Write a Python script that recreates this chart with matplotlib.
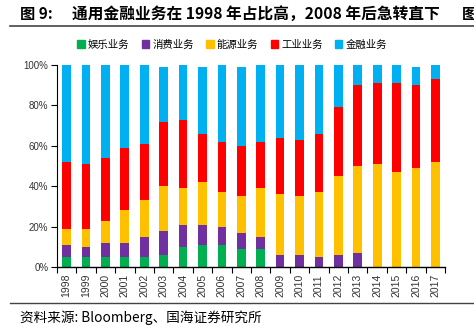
import matplotlib
matplotlib.use("Agg")
import matplotlib.pyplot as plt
import numpy as np
from matplotlib.lines import Line2D
from matplotlib.patches import Patch

plt.rcParams["font.family"] = ["Noto Sans CJK SC", "DejaVu Sans"]

years = [str(y) for y in range(1998, 2018)]
# 占比 (%)
entertainment = [5, 5, 5, 5, 5, 6, 10, 11, 11, 9, 9, 0, 0, 0, 0, 0, 0, 0, 0, 0]
consumer = [6, 5, 7, 7, 10, 12, 11, 10, 9, 8, 6, 6, 6, 5, 6, 7, 0, 0, 0, 0]
energy = [8, 9, 11, 16, 18, 22, 18, 21, 17, 18, 24, 30, 29, 32, 39, 43, 51, 47, 49, 52]
industrial = [33, 32, 31, 31, 28, 32, 34, 24, 25, 25, 23, 28, 28, 29, 34, 40, 40, 44, 41, 41]
financial = [48, 49, 46, 41, 39, 27, 27, 33, 38, 39, 38, 36, 37, 34, 21, 10, 9, 9, 9, 7]

series = [
    ("娱乐业务", entertainment, "#00B050"),
    ("消费业务", consumer, "#7030A0"),
    ("能源业务", energy, "#FFC000"),
    ("工业业务", industrial, "#FF0000"),
    ("金融业务", financial, "#00B0F0"),
]

fig = plt.figure(figsize=(4.74, 3.30), dpi=100)
ax = fig.add_axes([0.120, 0.191, 0.819, 0.612])

x = np.arange(len(years))
bottom = np.zeros(len(years))
for name, vals, color in series:
    vals = np.array(vals, dtype=float)
    ax.bar(x, vals, width=0.45, bottom=bottom, color=color, label=name)
    bottom += vals

ax.set_xlim(-0.5, len(years) - 0.5)
ax.set_ylim(0, 100)
ax.set_yticks(range(0, 101, 20))
ax.set_yticklabels([f"{v}%" for v in range(0, 101, 20)],
                   family="Liberation Sans", fontsize=7, color="#333333")
ax.set_xticks(x)
ax.set_xticklabels(years, rotation=90, family="Liberation Sans",
                   fontsize=7.5, color="#333333")
ax.set_xticks(np.arange(-0.5, len(years)), minor=True)
ax.tick_params(axis="x", which="major", length=0, pad=5)
ax.tick_params(axis="x", which="minor", length=4, width=0.8, direction="out")
ax.tick_params(axis="y", length=4, width=0.8, direction="out", pad=2)
for s in ["top", "right"]:
    ax.spines[s].set_visible(False)
ax.spines["left"].set_linewidth(0.8)
ax.spines["bottom"].set_linewidth(1.0)

# legend
handles = [Patch(color=c) for _, _, c in series]
fig.legend(handles, [n for n, _, _ in series], loc="center",
           bbox_to_anchor=(0.49, 0.865), ncol=5, frameon=False,
           fontsize=7.5, handlelength=0.7, handleheight=0.7,
           handletextpad=0.3, columnspacing=1.2)

# title (右侧的“图”在原图中被截断)
fig.text(20 / 474, 1 - 14 / 330, "图 9:", fontsize=11, fontweight="bold",
         va="center", ha="left")
fig.text(72 / 474, 1 - 14 / 330, "通用金融业务在 1998 年占比高，2008 年后急转直下",
         fontsize=11.3, fontweight="bold", va="center", ha="left")
fig.text(462 / 474, 1 - 14 / 330, "图", fontsize=11, fontweight="bold",
         va="center", ha="left", clip_on=False)
fig.add_artist(Line2D([10 / 474, 1], [1 - 26 / 330] * 2, color="#444444", lw=1.2))

# source
fig.add_artist(Line2D([10 / 474, 1], [1 - 303 / 330] * 2, color="#444444", lw=1.0))
fig.text(20 / 474, 1 - 318 / 330, "资料来源: Bloomberg、国海证券研究所",
         fontsize=9.8, va="center", ha="left")

fig.savefig("out.png", dpi=100)
